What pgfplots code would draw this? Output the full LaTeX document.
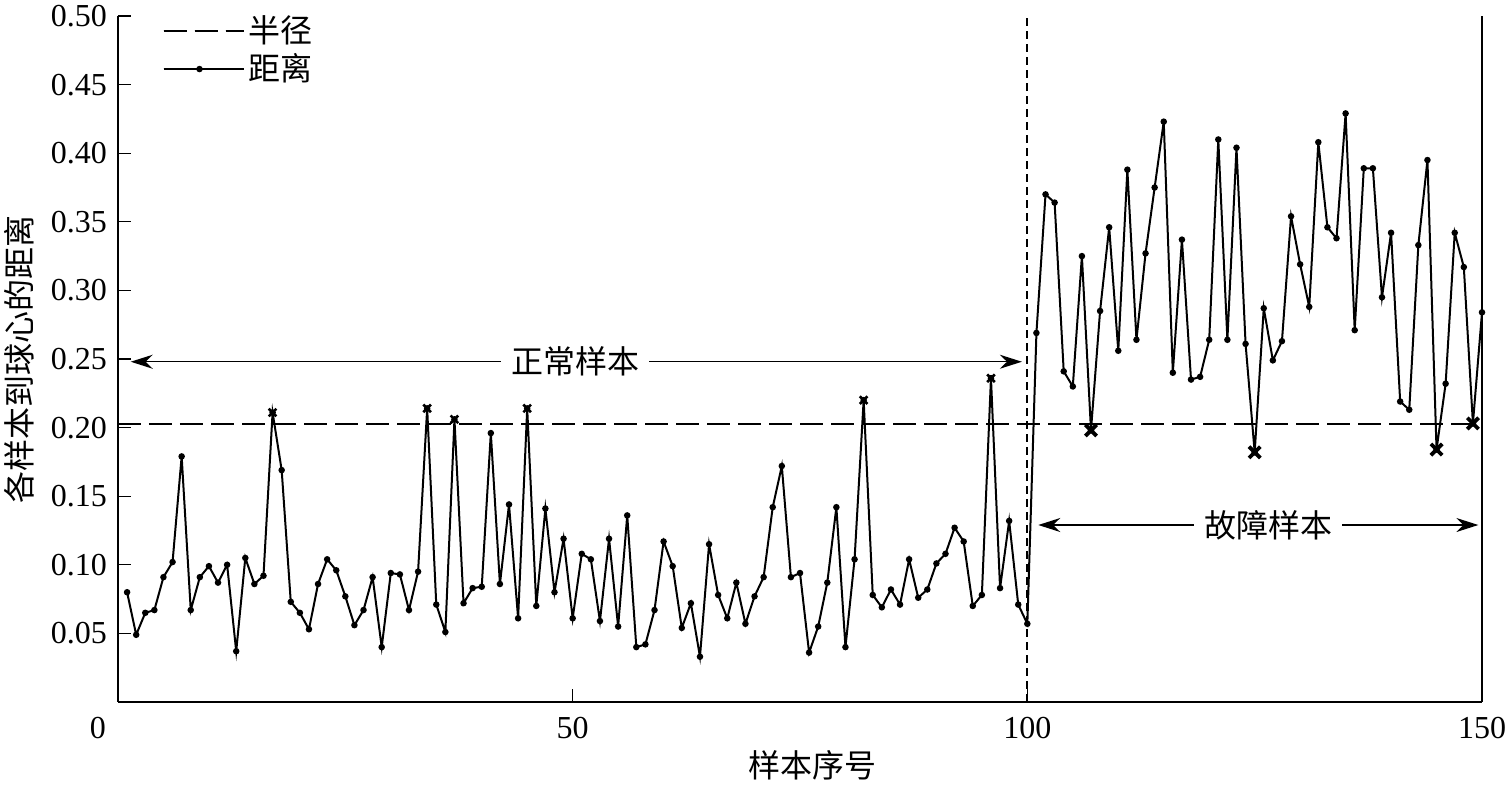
\documentclass[border=0pt]{standalone}
\usepackage{fontspec}
\setmainfont{Liberation Serif}
\newfontfamily\cjk{Noto Sans CJK SC}
\usepackage{pgfplots}
\pgfplotsset{compat=1.18}
\usepackage{pgfplotstable}
\usetikzlibrary{arrows.meta}

\pgfplotstableread{
x y
1 0.080
2 0.049
3 0.065
4 0.067
5 0.091
6 0.102
7 0.179
8 0.067
9 0.091
10 0.099
11 0.087
12 0.100
13 0.037
14 0.105
15 0.086
16 0.092
17 0.211
18 0.169
19 0.073
20 0.065
21 0.053
22 0.086
23 0.104
24 0.096
25 0.077
26 0.056
27 0.067
28 0.091
29 0.040
30 0.094
31 0.093
32 0.067
33 0.095
34 0.214
35 0.071
36 0.051
37 0.206
38 0.072
39 0.083
40 0.084
41 0.196
42 0.086
43 0.144
44 0.061
45 0.214
46 0.070
47 0.141
48 0.080
49 0.119
50 0.061
51 0.108
52 0.104
53 0.059
54 0.119
55 0.055
56 0.136
57 0.040
58 0.042
59 0.067
60 0.117
61 0.099
62 0.054
63 0.072
64 0.033
65 0.115
66 0.078
67 0.061
68 0.087
69 0.057
70 0.077
71 0.091
72 0.142
73 0.172
74 0.091
75 0.094
76 0.036
77 0.055
78 0.087
79 0.142
80 0.040
81 0.104
82 0.220
83 0.078
84 0.069
85 0.082
86 0.071
87 0.104
88 0.076
89 0.082
90 0.101
91 0.108
92 0.127
93 0.117
94 0.070
95 0.078
96 0.236
97 0.083
98 0.132
99 0.071
100 0.057
101 0.269
102 0.370
103 0.364
104 0.241
105 0.230
106 0.325
107 0.198
108 0.285
109 0.346
110 0.256
111 0.388
112 0.264
113 0.327
114 0.375
115 0.423
116 0.240
117 0.337
118 0.235
119 0.237
120 0.264
121 0.410
122 0.264
123 0.404
124 0.261
125 0.182
126 0.287
127 0.249
128 0.263
129 0.354
130 0.319
131 0.288
132 0.408
133 0.346
134 0.338
135 0.429
136 0.271
137 0.389
138 0.389
139 0.295
140 0.342
141 0.219
142 0.213
143 0.333
144 0.395
145 0.184
146 0.232
147 0.342
148 0.317
149 0.203
150 0.284
}\dist

\pgfplotstableread{
x y
17 0.211
34 0.214
37 0.206
45 0.214
82 0.220
96 0.236
}\crossA

\pgfplotstableread{
x y
107 0.198
125 0.182
145 0.184
149 0.203
}\crossB

\begin{document}
\fontsize{16}{19}\selectfont
\begin{tikzpicture}
\begin{axis}[
  scale only axis, width=682pt, height=343pt,
  xmin=0, xmax=150, ymin=0, ymax=0.5,
  clip=false,
  axis x line*=bottom, axis y line*=left,
  axis line style={-, line width=1pt},
  tick align=inside, major tick length=6.5pt,
  tick style={line width=0.6pt, black},
  xtick={50,100,150},
  extra x ticks={0},
  extra x tick labels={0},
  extra x tick style={xticklabel style={xshift=-10pt}},
  ytick={0.05,0.1,0.15,0.2,0.25,0.3,0.35,0.4,0.45,0.5},
  /pgf/number format/assume math mode=true,
  tick label style={font=\rmfamily},
  yticklabel style={/pgf/number format/.cd, fixed, fixed zerofill, precision=2, assume math mode=true},
  xticklabel style={yshift=-2pt},
  every axis x label/.style={at={(axis description cs:0.509,-0.092)}, anchor=center},
  every axis y label/.style={at={(axis description cs:-0.0726,0.5)}, rotate=90, anchor=center},
  xlabel={\cjk 样本序号},
  ylabel={\cjk 各样本到球心的距离},
  legend style={draw=none, fill=none, at={(axis cs:4.85,0.5)}, anchor=north west, yshift=2.5pt, font=\cjk, inner xsep=0pt, inner ysep=0pt, row sep=-1pt},
  legend cell align=left,
  legend image code/.code={\draw[mark repeat=2,mark phase=2,#1] plot coordinates {(0pt,0pt) (18pt,0pt) (36pt,0pt)}; \path (0pt,0pt) -- (40pt,0pt);},
]
\coordinate (sw) at (rel axis cs:0,0);
\coordinate (ne) at (rel axis cs:1,1);
\draw[line width=1pt] (rel axis cs:1,0) -- (rel axis cs:1,1);

\addplot[black, line width=1pt, dash pattern=on 11.5pt off 4pt] coordinates {(0,0.2025) (150,0.2025)};
\addlegendentry{半径}
\addplot[black, line width=1pt, mark=*, mark size=1.1pt, mark options={solid}] table {\dist};
\addlegendentry{距离}
\addplot[black, forget plot, only marks, mark=x, mark size=2.7pt, mark options={line width=1.3pt}] table {\crossA};
\addplot[black, forget plot, only marks, mark=x, mark size=4pt, mark options={line width=1.9pt}] table {\crossB};
\addplot[black, forget plot, line width=0.9pt, dash pattern=on 4pt off 2.5pt] coordinates {(100,0) (100,0.5)};

\draw[{Stealth[length=11pt,width=7pt]}-{Stealth[length=11pt,width=7pt]}, line width=0.7pt] (axis cs:1.4,0.248) -- (axis cs:99.4,0.248);
\node[fill=white, font=\cjk, inner xsep=5pt, inner ysep=1pt] at (axis cs:50.3,0.248) {正常样本};
\draw[{Stealth[length=11pt,width=7pt]}-{Stealth[length=11pt,width=7pt]}, line width=0.7pt] (axis cs:101.2,0.129) -- (axis cs:149.6,0.129);
\node[fill=white, font=\cjk, inner xsep=5pt, inner ysep=1pt] at (axis cs:126.5,0.129) {故障样本};
\end{axis}
\pgfresetboundingbox
\path ([shift={(-59pt,-42pt)}]sw) rectangle ([shift={(14pt,8pt)}]ne);
\end{tikzpicture}
\end{document}
